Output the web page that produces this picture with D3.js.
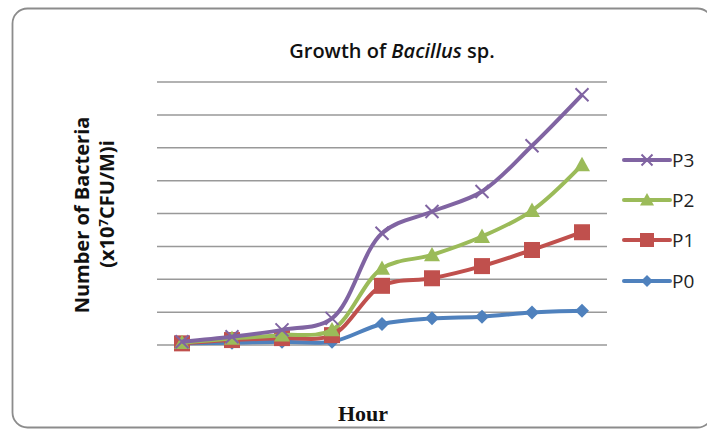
<!DOCTYPE html>
<html><head><meta charset="utf-8">
<script src="https://cdn.jsdelivr.net/npm/d3@7"></script>
<style>body{margin:0;background:#fff}svg{display:block}</style>
</head><body>
<script>
const hours = ["1","2","3","4","5","6","7","8","9"];
const seriesNames = ["P0","P1","P2","P3"];
const P0 = [0.05,0.07,0.10,0.10,0.64,0.81,0.86,0.99,1.04];
const P1 = [0.05,0.15,0.21,0.30,1.80,2.03,2.40,2.89,3.43];
const P2 = [0.07,0.20,0.30,0.46,2.33,2.74,3.30,4.09,5.48];
const P3 = [0.10,0.25,0.46,0.81,3.40,4.06,4.67,6.06,7.61];
const gridTicks = [0,1,2,3,4,5,6,7,8];
const colors = ["#4F81BD","#C0504D","#9BBB59","#8064A2"];
const markers = ["diamond","square","triangle","x"];

const W=707,H=429;
const svg=d3.select("body").append("svg").attr("width",W).attr("height",H);
svg.append("rect").attr("x",12.5).attr("y",8.5).attr("width",700).attr("height",419)
  .attr("rx",15).attr("fill","#fff").attr("stroke","#8c8c8c").attr("stroke-width",1.8);

const x=d3.scaleBand().domain(hours).range([157,607]);
const y=d3.scaleLinear().domain([0,8]).range([345,82]);

svg.append("g").selectAll("line").data(gridTicks).join("line")
  .attr("x1",157).attr("x2",607).attr("y1",d=>y(d)).attr("y2",d=>y(d))
  .attr("stroke","#999").attr("stroke-width",1.5);

svg.append("text").attr("x",392).attr("y",58).attr("text-anchor","middle")
  .attr("font-family","'Open Sans', sans-serif").attr("font-weight",600).attr("font-size",20).attr("fill","#111")
  .html('Growth of <tspan font-style="italic">Bacillus</tspan> sp.');

const yt=svg.append("text").attr("transform","rotate(-90)")
  .attr("text-anchor","middle").attr("font-family","'Open Sans', sans-serif")
  .attr("font-size",20).attr("font-weight",700).attr("fill","#111");
yt.append("tspan").attr("x",-215).attr("y",89).text("Number of Bacteria");
yt.append("tspan").attr("x",-204).attr("y",114).html('(x10<tspan dy="-6" font-size="13">7</tspan><tspan dy="6">CFU/M)i</tspan>');

svg.append("text").attr("x",363).attr("y",421).attr("text-anchor","middle")
  .attr("font-family","'Liberation Serif', serif").attr("font-weight","bold")
  .attr("font-size",22).attr("fill","#111").text("Hour");

const data=[P0,P1,P2,P3];
const cx=i=>x(hours[i])+x.bandwidth()/2;
const line=d3.line().x((d,i)=>cx(i)).y(d=>y(d)).curve(d3.curveCatmullRom.alpha(0.5));

function drawMarker(g,type,color,px,py,s){
  if(type==="diamond"){
    g.append("path").attr("d",`M${px},${py-s}L${px+s},${py}L${px},${py+s}L${px-s},${py}Z`).attr("fill",color);
  } else if(type==="square"){
    g.append("rect").attr("x",px-s).attr("y",py-s).attr("width",2*s).attr("height",2*s).attr("fill",color);
  } else if(type==="triangle"){
    g.append("path").attr("d",`M${px},${py-s}L${px+s},${py+s*0.8}L${px-s},${py+s*0.8}Z`).attr("fill",color);
  } else {
    g.append("path").attr("d",`M${px-s},${py-s}L${px+s},${py+s}M${px-s},${py+s}L${px+s},${py-s}`)
      .attr("stroke",color).attr("stroke-width",2).attr("fill","none");
  }
}
const sizes=[7,8,8,6.5];
const legSizes=[6,7,7,5.5];
data.forEach((vals,k)=>{
  const g=svg.append("g");
  g.append("path").attr("d",line(vals)).attr("fill","none").attr("stroke",colors[k]).attr("stroke-width",4).attr("stroke-linejoin","round");
  vals.forEach((v,i)=>drawMarker(g,markers[k],colors[k],cx(i),y(v),sizes[k]));
});

// legend
const legY=[281,240,200,160];
seriesNames.forEach((n,k)=>{
  const g=svg.append("g");
  g.append("line").attr("x1",624).attr("x2",670).attr("y1",legY[k]).attr("y2",legY[k]).attr("stroke",colors[k]).attr("stroke-width",4).attr("stroke-linecap","round");
  drawMarker(g,markers[k],colors[k],647,legY[k],legSizes[k]);
  g.append("text").attr("x",672).attr("y",legY[k]+7).attr("font-family","'Open Sans', sans-serif")
    .attr("font-size",19).attr("fill","#222").text(n);
});
</script>
</body></html>
